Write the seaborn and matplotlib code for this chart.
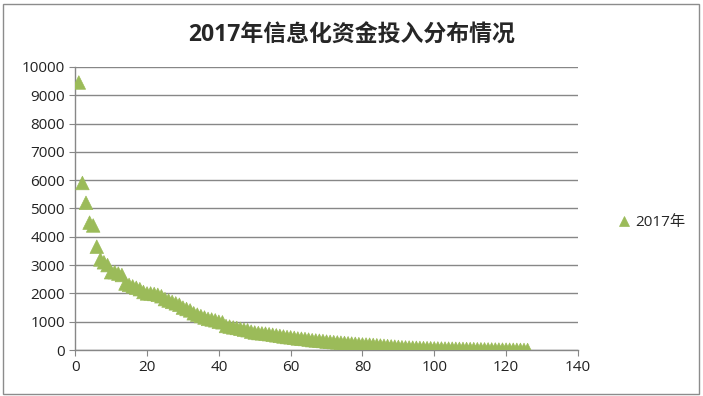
import seaborn as sns
import matplotlib.pyplot as plt
import pandas as pd
from matplotlib.patches import Rectangle

# 各单位信息化资金投入 (按金额降序)
values = [
    9450, 5900, 5200, 4500, 4400, 3650, 3200, 3100, 3000, 2750,
    2750, 2700, 2650, 2350, 2300, 2250, 2200, 2150, 2050, 2000,
    2000, 1980, 1950, 1900, 1800, 1750, 1700, 1650, 1600, 1500,
    1450, 1400, 1300, 1250, 1200, 1150, 1100, 1080, 1050, 1000,
    980, 850, 830, 800, 780, 750, 720, 700, 650, 620,
    600, 590, 580, 560, 540, 520, 500, 480, 460, 450,
    430, 410, 400, 390, 370, 350, 340, 330, 320, 300,
    290, 280, 270, 260, 250, 240, 230, 220, 210, 200,
    195, 190, 180, 170, 160, 150, 140, 130, 120, 110,
    100, 95, 90, 85, 80, 75, 70, 68, 65, 60,
    58, 55, 52, 50, 48, 45, 42, 40, 38, 35,
    33, 30, 28, 26, 24, 22, 20, 18, 16, 14,
    12, 10, 8, 6, 4, 2,
]
ranks = list(range(1, len(values) + 1))
series_name = "2017年"
title = "2017年信息化资金投入分布情况"

df = pd.DataFrame({"rank": ranks, "amount": values, "series": series_name})

sns.set_style("white")
plt.rcParams["font.family"] = ["Open Sans", "Noto Sans CJK SC", "DejaVu Sans"]

fig = plt.figure(figsize=(7.03, 3.96), dpi=100)
ax = fig.add_axes([0.107, 0.116, 0.715, 0.715])

sns.scatterplot(data=df, x="rank", y="amount", hue="series",
                palette=["#9bbb59"], marker="^", s=95, edgecolor="#9bbb59",
                linewidth=0.5, ax=ax, zorder=3)

ax.set_xlim(0, 140)
ax.set_ylim(0, 10000)
ax.set_xticks(range(0, 141, 20))
ax.set_yticks(range(0, 10001, 1000))
ax.grid(axis="y", color="#878787", linewidth=1)
ax.set_axisbelow(True)
for side in ["top", "right"]:
    ax.spines[side].set_visible(False)
for side in ["left", "bottom"]:
    ax.spines[side].set_color("#878787")
    ax.spines[side].set_linewidth(1)
ax.tick_params(axis="both", direction="out", length=4, color="#878787",
               labelsize=11, labelcolor="#222222", left=True, bottom=True)
ax.set_xlabel("")
ax.set_ylabel("")

leg = ax.legend(loc="center left", bbox_to_anchor=(1.035, 0.45), frameon=False,
                fontsize=11, handletextpad=-0.3, markerscale=0.8)
for t in leg.get_texts():
    t.set_family(["Open Sans", "Noto Sans CJK SC"])

fig.suptitle(title, y=0.94, fontsize=16.5, fontweight="bold",
             family=["Open Sans", "Noto Sans CJK SC"])

fig.patches.append(Rectangle((0.004, 0.005), 0.99, 0.985, transform=fig.transFigure,
                             fill=False, edgecolor="#8c8c8c", linewidth=1))

fig.savefig("out.png", dpi=100)
